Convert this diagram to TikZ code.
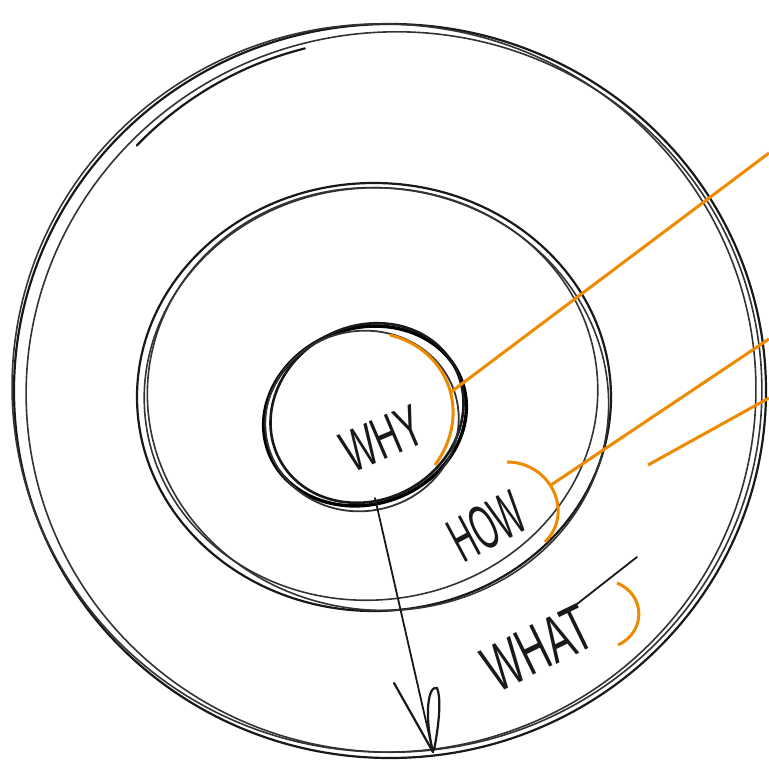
\documentclass[tikz,border=0pt]{standalone}
\usepackage{fontspec}
\setmainfont{Liberation Sans}
\definecolor{sketchorange}{RGB}{238,138,0}
\begin{document}
\begin{tikzpicture}[x=1pt,y=-1pt,
  pen/.style={line width=2.2pt, black!90, line cap=round},
  thinpen/.style={line width=1.6pt, black!80, line cap=round},
  boldpen/.style={line width=3.4pt, black, line cap=round},
  hl/.style={line width=3pt, sketchorange},
  lbl/.style={inner sep=0pt, text=black!90}]
\useasboundingbox (0,0) rectangle (769,766);
\fill[white] (0,0) rectangle (769,766);

% outer circle
\draw[pen] (390,391) ellipse [x radius=376, y radius=367];
\draw[thinpen, rotate around={8:(394,392)}] (394,392) ellipse [x radius=368, y radius=360];
\draw[thinpen, rotate around={-6:(384,388)}] (384,388) ellipse [x radius=372, y radius=364];
\draw[pen] ([shift={(-136:352)}]390,390) arc[start angle=-136, end angle=-104, radius=352];

% middle circle
\draw[pen] (374,397) ellipse [x radius=237, y radius=214];
\draw[thinpen, rotate around={-8:(378,399)}] (378,399) ellipse [x radius=231, y radius=211];
\draw[thinpen, rotate around={6:(371,394)}] (371,394) ellipse [x radius=227, y radius=206];

% inner circle
\draw[boldpen, rotate around={20:(365,416)}] (365,416) ellipse [x radius=103, y radius=88];
\draw[pen, line width=2.6pt, rotate around={28:(367,413)}] (367,413) ellipse [x radius=99, y radius=87];
\draw[thinpen, line width=1.8pt, rotate around={12:(362,421)}] (362,421) ellipse [x radius=97, y radius=90];

% labels
\node[lbl, rotate=23] (why) at (382,439) {\fontsize{37}{37}\selectfont\scalebox{0.95}[1.6]{WHY}};
\node[lbl, rotate=28] (how) at (487,526) {\fontsize{35}{35}\selectfont\scalebox{0.9}[1.8]{HOW}};
\node[lbl, rotate=26] (what) at (538,648) {\fontsize{39}{39}\selectfont\scalebox{1}[1.7]{WHAT}};
\coordinate (tbarA) at (577,604);
\coordinate (tbarB) at (637,557);
\draw[pen, line width=1.8pt] (tbarA) -- (tbarB);

% arrow
\coordinate (arrowstart) at (375,498);
\coordinate (arrowtip) at (433,752);
\coordinate (headL) at (394,683);
\draw[pen, line width=1.8pt] (arrowstart) -- (arrowtip);
\draw[pen] (headL) -- (arrowtip);
\draw[pen] (arrowtip) .. controls (424,715) and (428,685) .. (437,688) .. controls (442,700) and (438,730) .. (434,750);

% orange brackets and leaders
\draw[hl] (390,335) .. controls (450,350) and (472,415) .. (435,465);
\coordinate (whyarc) at (451,392);
\coordinate (whyend) at (769,153);
\draw[hl] (whyarc) -- (whyend);

\draw[hl] (507,462) .. controls (550,462) and (575,512) .. (545,542);
\coordinate (howarc) at (551,485);
\coordinate (howend) at (769,339);
\draw[hl] (howarc) -- (howend);

\coordinate (whatlead) at (648,465);
\coordinate (whatend) at (769,398);
\draw[hl] (whatlead) -- (whatend);

\draw[hl] (617,583) .. controls (646,595) and (646,632) .. (618,645);
\end{tikzpicture}
\end{document}
